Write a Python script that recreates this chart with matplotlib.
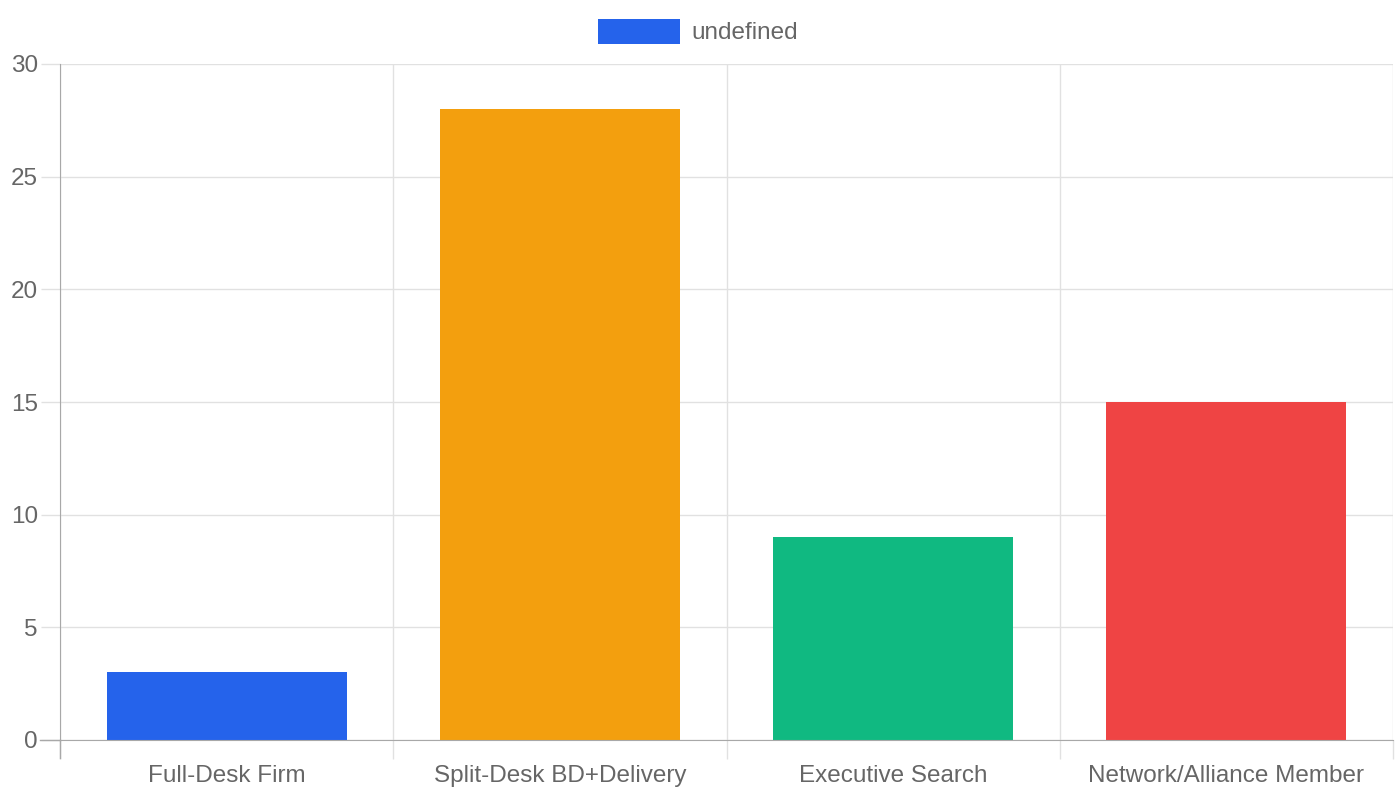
import matplotlib

matplotlib.use("Agg")
import matplotlib.pyplot as plt
from matplotlib.patches import Rectangle

plt.rcParams["font.family"] = ["Liberation Sans", "DejaVu Sans"]

categories = ["Full-Desk Firm", "Split-Desk BD+Delivery", "Executive Search", "Network/Alliance Member"]
values = [3, 28, 9, 15]
colors = ["#2563EB", "#F39F0E", "#10B981", "#EF4444"]
yticks = [0, 5, 10, 15, 20, 25, 30]
legend_label = "undefined"

W, H = 1400, 800
fig = plt.figure(figsize=(W / 100, H / 100), dpi=100)
ax = fig.add_axes([60 / W, 1 - 740 / H, (1393 - 60) / W, (740 - 64) / H])

x = list(range(len(categories)))
ax.bar(x, values, width=0.72, color=colors, zorder=2)
ax.set_xlim(-0.5, len(categories) - 0.5)
ax.set_ylim(0, 30)

text_color = "#666666"
grid_color = "#e1e1e1"
axis_color = "#a8a8a8"
fsize = 17.5

ax.set_yticks(yticks)
ax.set_yticklabels([str(t) for t in yticks])
ax.set_xticks(x)
ax.set_xticklabels(categories)
ax.set_xticks([i - 0.5 for i in range(len(categories) + 1)], minor=True)

ax.tick_params(axis="y", length=14, width=1, color=grid_color, labelcolor=text_color,
               labelsize=fsize, pad=2)
ax.tick_params(axis="x", which="major", length=0, labelcolor=text_color, labelsize=fsize, pad=18)
ax.tick_params(axis="x", which="minor", length=13.5, width=1, color=grid_color)

ax.grid(True, axis="y", color=grid_color, linewidth=1, zorder=0)
ax.grid(True, axis="x", which="minor", color=grid_color, linewidth=1, zorder=0)

for side in ("top", "right"):
    ax.spines[side].set_visible(False)
ax.spines["left"].set_color(axis_color)
ax.spines["bottom"].set_color(axis_color)
ax.spines["left"].set_bounds(0, 30)
ax.spines["bottom"].set_zorder(3)

# left axis line continues below the x axis, bottom axis extends left (chart.js style)
ax.plot([-0.5, -0.5], [0, -18 / 676 * 30], color=axis_color, lw=1, clip_on=False, zorder=3)
ax.plot([-0.5 - 20 / 1333 * 4, -0.5], [0, 0], color=axis_color, lw=1, clip_on=False, zorder=3)
ax.set_axisbelow(True)

# legend drawn chart.js style at the top
fig.patches.append(Rectangle((598 / W, 1 - 44 / H), 82 / W, 25 / H,
                             transform=fig.transFigure, facecolor=colors[0],
                             edgecolor="none"))
fig.text(691 / W, 1 - 33 / H, legend_label, color=text_color, fontsize=fsize,
         va="center", ha="left")

fig.savefig("out.png", dpi=100, facecolor="white")
